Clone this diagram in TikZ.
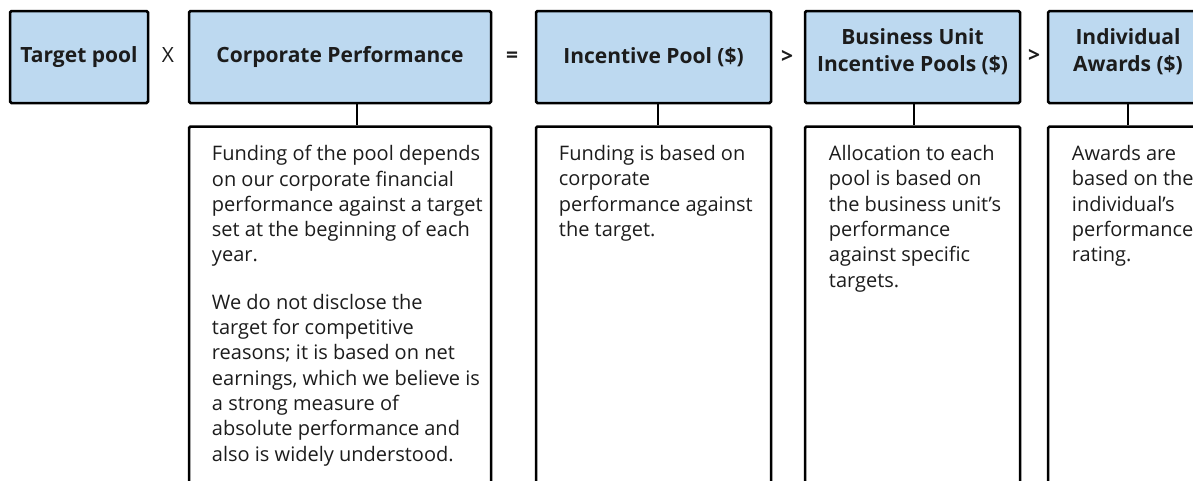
\documentclass[tikz,border=0pt]{standalone}
\usepackage{fontspec}
\setmainfont{Open Sans}
\usepackage{tikz}
\usetikzlibrary{positioning}
\definecolor{headfill}{RGB}{189,217,240}
\definecolor{inktext}{RGB}{28,28,28}

\begin{document}
\begin{tikzpicture}[x=1pt, y=-1pt, node distance=21pt,
headbox/.style={draw, line width=2.5pt, rounded corners=1.5pt, fill=headfill, minimum height=92pt, align=center, text=inktext, font=\fontsize{21}{27}\selectfont\bfseries},
twoline/.style={text depth=14pt},
infobox/.style={draw, line width=2.5pt, rounded corners=1.5pt, minimum height=420pt},
infotext/.style={anchor=north west, inner sep=0pt, align=left, text=inktext, font=\fontsize{20}{25.3}\selectfont},
oper/.style={text=inktext, font=\fontsize{21}{22}\selectfont},
link/.style={line width=2pt}]
\useasboundingbox (0,0) rectangle (1193,480);
\clip (0,0) rectangle (1193,480);

% header boxes
\node [headbox, minimum width=138pt] (pool) at (79,57) {Target pool};
\node [headbox, minimum width=302pt] (corp) at (340,57) {Corporate Performance};
\node [headbox, minimum width=235pt] (fund) at (653.5,57) {Incentive Pool (\$)};
\node [headbox, twoline, minimum width=215pt] (unit) at (912.5,57) {Business Unit\\Incentive Pools (\$)};
\node [headbox, twoline, minimum width=160pt] (award) at (1128,57) {Individual\\Awards (\$)};

% operators
\node [oper] (times) at (168,55) {X};
\node [oper, font=\fontsize{21}{22}\selectfont\bfseries] (equals) at (512,57) {=};
\node [oper, font=\fontsize{21}{22}\selectfont\bfseries] (gtone) at (787,57) {>};
\node [oper, font=\fontsize{21}{22}\selectfont\bfseries] (gttwo) at (1034,56) {>};

% lower boxes
\node [infobox, minimum width=302pt, below=of corp] (corpinfo) {};
\node [infobox, minimum width=235pt, below=of fund] (fundinfo) {};
\node [infobox, minimum width=215pt, below=of unit] (unitinfo) {};
\node [infobox, minimum width=160pt, below=of award] (awardinfo) {};

% links
\draw [link] ([xshift=17pt]corp.south) -- ([xshift=17pt]corpinfo.north);
\draw [link] ([xshift=4pt]fund.south) -- ([xshift=4pt]fundinfo.north);
\draw [link] ([xshift=1.5pt]unit.south) -- ([xshift=1.5pt]unitinfo.north);
\draw [link] (award.south) -- (awardinfo.north);

% texts
\node [infotext] (corptext) at ([xshift=24pt,yshift=-20pt]corpinfo.north west) {Funding of the pool depends\\on our corporate financial\\performance against a target\\set at the beginning of each\\year.\\[22pt]We do not disclose the\\target for competitive\\reasons; it is based on net\\earnings, which we believe is\\a strong measure of\\absolute performance and\\also is widely understood.};
\node [infotext] (fundtext) at ([xshift=24pt,yshift=-20pt]fundinfo.north west) {Funding is based on\\corporate\\performance against\\the target.};
\node [infotext] (unittext) at ([xshift=25pt,yshift=-20pt]unitinfo.north west) {Allocation to each\\pool is based on\\the business unit’s\\performance\\against specific\\targets.};
\node [infotext] (awardtext) at ([xshift=25pt,yshift=-20pt]awardinfo.north west) {Awards are\\based on the\\individual’s\\performance\\rating.};

\end{tikzpicture}
\end{document}
